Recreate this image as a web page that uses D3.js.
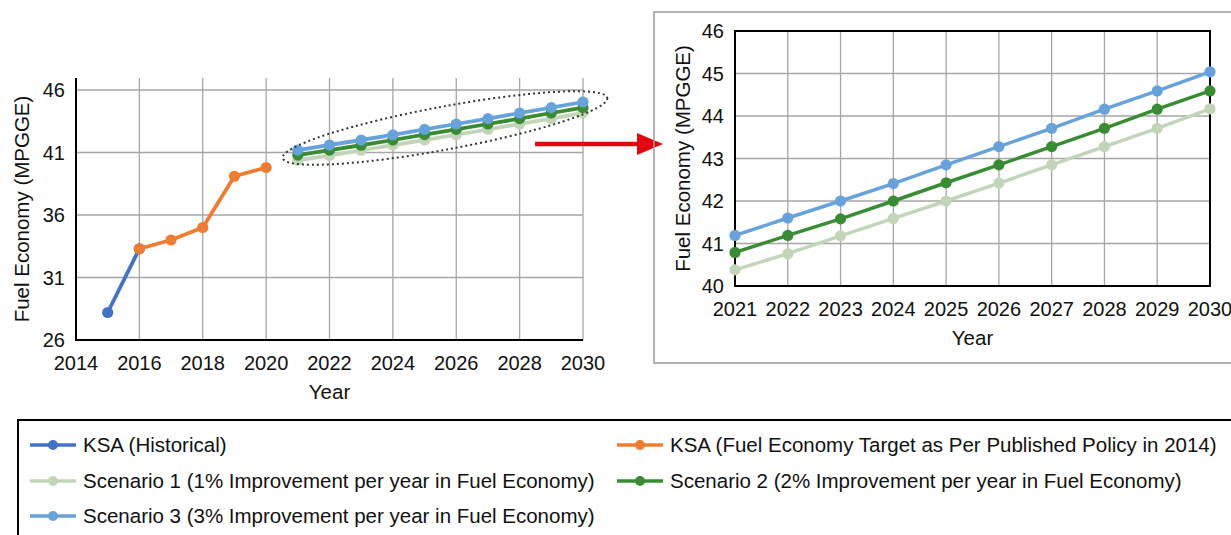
<!DOCTYPE html>
<html>
<head>
<meta charset="utf-8">
<script src="https://cdn.jsdelivr.net/npm/d3@7"></script>
<style>
  body { margin: 0; background: #fff; }
  svg { display: block; font-family: "Liberation Sans", Arial, sans-serif; }
</style>
</head>
<body>
<svg id="chart" width="1231" height="535"></svg>
<script>
// data
var histYears = [2015, 2016];
var histValues = [28.2, 33.3];

var policyYears = [2016, 2017, 2018, 2019, 2020];
var policyValues = [33.3, 34.0, 35.0, 39.1, 39.8];

var scenYears = [2021, 2022, 2023, 2024, 2025, 2026, 2027, 2028, 2029, 2030];
var scen1 = [40.38, 40.76, 41.18, 41.59, 42.0, 42.42, 42.85, 43.28, 43.71, 44.17];
var scen2 = [40.79, 41.19, 41.58, 42.0, 42.43, 42.85, 43.28, 43.71, 44.16, 44.59];
var scen3 = [41.19, 41.6, 42.0, 42.41, 42.85, 43.28, 43.71, 44.16, 44.59, 45.04];

var leftXTicks = [2014, 2016, 2018, 2020, 2022, 2024, 2026, 2028, 2030];
var leftYTicks = [26, 31, 36, 41, 46];
var rightYTicks = [40, 41, 42, 43, 44, 45, 46];

var colors = {
  hist: "#4472c4",
  policy: "#ed7d31",
  s1: "#c3d5b8",
  s2: "#3a8c34",
  s3: "#68a2da"
};

var series = [
  {key: "hist", x: histYears, y: histValues, name: "KSA (Historical)"},
  {key: "policy", x: policyYears, y: policyValues, name: "KSA (Fuel Economy Target as Per Published Policy in 2014)"},
  {key: "s1", x: scenYears, y: scen1, name: "Scenario 1 (1% Improvement per year in Fuel Economy)"},
  {key: "s2", x: scenYears, y: scen2, name: "Scenario 2 (2% Improvement per year in Fuel Economy)"},
  {key: "s3", x: scenYears, y: scen3, name: "Scenario 3 (3% Improvement per year in Fuel Economy)"}
];

var svg = d3.select("#chart");
var gridColor = "#a6a6a6";
var fontTick = "20px", fontTitle = "20.5px";

function drawPanel(opt) {
  var g = svg.append("g");
  var x = opt.x, y = opt.y;
  var x0 = x.range()[0], x1 = x.range()[1];
  var yb = y.range()[0], yt = opt.top;

  // gridlines
  g.selectAll(".vg").data(opt.xGrid).enter().append("line")
    .attr("x1", d => x(d)).attr("x2", d => x(d))
    .attr("y1", yt).attr("y2", yb)
    .attr("stroke", gridColor).attr("stroke-width", 1.3);
  g.selectAll(".hg").data(opt.yGrid).enter().append("line")
    .attr("x1", x0).attr("x2", x1)
    .attr("y1", d => y(d)).attr("y2", d => y(d))
    .attr("stroke", gridColor).attr("stroke-width", 1.3);

  // frame / axes
  if (opt.box) {
    g.append("rect").attr("x", x0).attr("y", yt)
      .attr("width", x1 - x0).attr("height", yb - yt)
      .attr("fill", "none").attr("stroke", "#000").attr("stroke-width", 2);
  } else {
    g.append("line").attr("x1", x0).attr("x2", x0).attr("y1", yt).attr("y2", yb)
      .attr("stroke", "#000").attr("stroke-width", 2);
    g.append("line").attr("x1", x0 - 1).attr("x2", x1).attr("y1", yb).attr("y2", yb)
      .attr("stroke", "#000").attr("stroke-width", 2);
  }

  // tick labels
  g.selectAll(".xt").data(opt.xTicks).enter().append("text")
    .attr("x", d => x(d)).attr("y", yb + 30)
    .attr("text-anchor", "middle").style("font-size", fontTick).attr("fill", "#111")
    .text(d => d);
  g.selectAll(".yt").data(opt.yTicks).enter().append("text")
    .attr("x", x0 - 11).attr("y", d => y(d)).attr("dy", "0.35em")
    .attr("text-anchor", "end").style("font-size", fontTick).attr("fill", "#111")
    .text(d => d);

  // titles
  g.append("text").attr("x", (x0 + x1) / 2).attr("y", opt.xTitleY)
    .attr("text-anchor", "middle").style("font-size", fontTitle).attr("fill", "#111")
    .text("Year");
  g.append("text")
    .attr("transform", "translate(" + opt.yTitleX + "," + ((yt + yb) / 2) + ") rotate(-90)")
    .attr("text-anchor", "middle").attr("dy", "0.35em")
    .style("font-size", fontTitle).attr("fill", "#111")
    .text("Fuel Economy (MPGGE)");

  // lines
  var line = d3.line().x(d => x(d[0])).y(d => y(d[1]));
  opt.series.forEach(s => {
    var pts = s.x.map((v, i) => [v, s.y[i]]);
    g.append("path").datum(pts)
      .attr("d", line).attr("fill", "none")
      .attr("stroke", colors[s.key]).attr("stroke-width", opt.lw)
      .attr("stroke-linejoin", "round");
    g.selectAll(null).data(pts).enter().append("circle")
      .attr("cx", d => x(d[0])).attr("cy", d => y(d[1]))
      .attr("r", opt.r).attr("fill", colors[s.key]);
  });
  return g;
}

// left chart
var xL = d3.scaleLinear().domain([2014, 2030]).range([76, 583]);
var yL = d3.scaleLinear().domain([26, 46]).range([340, 90]);
drawPanel({
  x: xL, y: yL, top: 78, box: false,
  xGrid: leftXTicks.slice(1), yGrid: leftYTicks.slice(1),
  xTicks: leftXTicks, yTicks: leftYTicks,
  xTitleY: 399, yTitleX: 22,
  series: series, lw: 3.8, r: 5.6
});

// dotted ellipse around the scenario lines
svg.append("ellipse")
  .attr("cx", 445).attr("cy", 128).attr("rx", 165).attr("ry", 21.5)
  .attr("transform", "rotate(-10.5,445,128)")
  .attr("fill", "none").attr("stroke", "#2f3a2f").attr("stroke-width", 2)
  .attr("stroke-dasharray", "2,3");

// red arrow
svg.append("line").attr("x1", 535).attr("x2", 640).attr("y1", 144).attr("y2", 144)
  .attr("stroke", "#e30613").attr("stroke-width", 4.5);
svg.append("path").attr("d", "M637,133 L663,144 L637,155 Z").attr("fill", "#e30613");

// right panel frame
svg.append("rect").attr("x", 654).attr("y", 12).attr("width", 600).attr("height", 351)
  .attr("fill", "none").attr("stroke", "#9a9a9a").attr("stroke-width", 1.5);

var xR = d3.scaleLinear().domain([2021, 2030]).range([735, 1210]);
var yR = d3.scaleLinear().domain([40, 46]).range([286, 31]);
drawPanel({
  x: xR, y: yR, top: 31, box: true,
  xGrid: scenYears.slice(1, -1), yGrid: rightYTicks.slice(1, -1),
  xTicks: scenYears, yTicks: rightYTicks,
  xTitleY: 345, yTitleX: 683,
  series: [series[2], series[3], series[4]], lw: 3.5, r: 5.6
});

// legend
svg.append("rect").attr("x", 18).attr("y", 420).attr("width", 1240).attr("height", 130)
  .attr("fill", "none").attr("stroke", "#000").attr("stroke-width", 2);

var legendPos = [
  {s: series[0], lx: 30, ly: 445},
  {s: series[1], lx: 617, ly: 445},
  {s: series[2], lx: 30, ly: 481},
  {s: series[3], lx: 617, ly: 481},
  {s: series[4], lx: 30, ly: 516}
];
var lg = svg.append("g").selectAll("g").data(legendPos).enter().append("g")
  .attr("transform", d => "translate(" + d.lx + "," + d.ly + ")");
lg.append("line").attr("x1", 0).attr("x2", 46).attr("y1", 0).attr("y2", 0)
  .attr("stroke", d => colors[d.s.key]).attr("stroke-width", 3.5);
lg.append("circle").attr("cx", 23).attr("cy", 0).attr("r", 5)
  .attr("fill", d => colors[d.s.key]);
lg.append("text").attr("x", 53).attr("y", 0).attr("dy", "0.35em")
  .style("font-size", fontTitle).attr("fill", "#111")
  .text(d => d.s.name);
</script>
</body>
</html>
